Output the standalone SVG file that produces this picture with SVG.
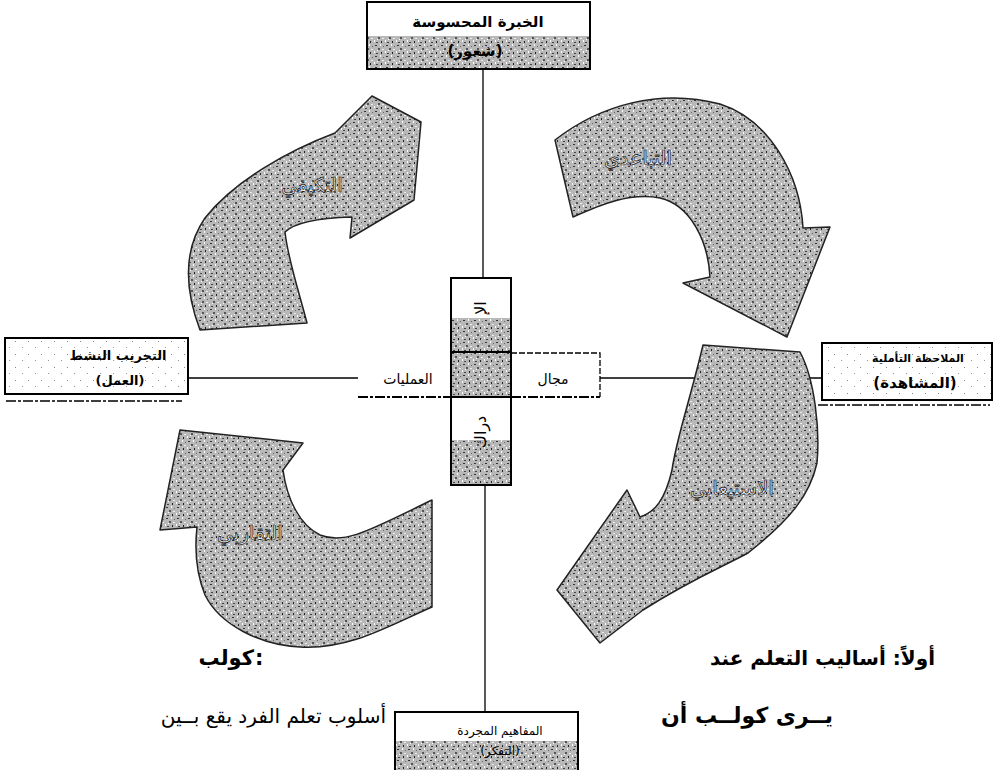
<svg xmlns="http://www.w3.org/2000/svg" width="999" height="770" viewBox="0 0 999 770">
<defs>
<pattern id="tex" width="11" height="11" patternUnits="userSpaceOnUse">
<rect width="11" height="11" fill="#b8b8b8"/>
<rect x="1" y="1" width="2" height="1" fill="#333"/>
<rect x="6" y="0" width="1" height="2" fill="#fff"/>
<rect x="4" y="4" width="2" height="2" fill="#555"/>
<rect x="8" y="5" width="2" height="1" fill="#eee"/>
<rect x="0" y="7" width="1" height="2" fill="#fff"/>
<rect x="2" y="9" width="2" height="1" fill="#444"/>
<rect x="7" y="8" width="1" height="2" fill="#222"/>
<rect x="9" y="2" width="1" height="1" fill="#666"/>
<rect x="3" y="6" width="1" height="1" fill="#fff"/>
</pattern>
<pattern id="lt" width="13" height="13" patternUnits="userSpaceOnUse">
<rect width="13" height="13" fill="#fff"/>
<rect x="2" y="3" width="1" height="1" fill="#888"/>
<rect x="9" y="9" width="1" height="1" fill="#999"/>
</pattern>
</defs>
<style>
.ar{font-family:'DejaVu Sans',sans-serif;fill:#000}
.b{font-weight:bold}
.box{fill:#fff;stroke:#000;stroke-width:2}
.ln{stroke:#000;stroke-width:1.3;fill:none}
.arrow{fill:url(#tex);stroke:#222;stroke-width:1.5;stroke-linejoin:round}
.lab{font-family:'DejaVu Sans',sans-serif;font-size:20px;fill:#f2f2f2;stroke:#111;stroke-width:0.7;opacity:0.99}
.dash{stroke:#000;stroke-width:2;stroke-dasharray:10 2 3 2;fill:none}
</style>

<g id="connectors">
<line class="ln" x1="483" y1="70" x2="483" y2="278"/>
<line class="ln" x1="485" y1="485" x2="485" y2="712"/>
<line class="ln" x1="188" y1="378" x2="358" y2="378"/>
<line class="ln" x1="600" y1="378" x2="822" y2="378"/>
</g>

<g id="arrow-divergent">
<path class="arrow" d="M555,140 C600,105 660,88 720,104 C770,120 800,175 803,228 L830,227 L787,337 L683,283 L710,277 C708,240 690,205 660,198 C630,192 600,205 573,217 Z"/>
<text class="lab" x="638" y="165" text-anchor="middle">التباعدي</text>
</g>

<g id="arrow-accommodating">
<path class="arrow" d="M200,330 C185,290 183,250 205,218 C235,180 290,150 335,133 L372,96 L421,122 L414,200 L350,238 L352,217 C320,218 295,222 285,232 C288,260 300,295 307,323 Z"/>
<text class="lab" x="312" y="192" text-anchor="middle">التكيفي</text>
</g>

<g id="arrow-converging">
<path class="arrow" d="M180,430 L303,443 L283,470 C287,500 300,525 320,535 C345,545 370,530 432,500 L432,607 C390,625 350,650 300,647 C260,645 220,625 205,595 C195,570 195,545 197,527 L160,530 Z"/>
<text class="lab" x="250" y="540" text-anchor="middle">التقاربي</text>
</g>

<g id="arrow-assimilating">
<path class="arrow" d="M703,345 L800,352 C815,380 820,430 817,463 C810,495 790,520 748,553 C720,568 690,580 643,610 L600,643 L557,590 L627,490 L640,517 C655,512 665,500 672,470 C676,440 690,400 703,345 Z"/>
<text class="lab" x="732" y="495" text-anchor="middle">الاستيعابي</text>
</g>

<g id="node-concrete">
<rect class="box" x="367" y="2" width="223" height="67"/>
<rect x="368" y="36" width="221" height="32" fill="url(#tex)"/>
<text class="ar b" x="478" y="27" font-size="15" text-anchor="middle">الخبرة المحسوسة</text>
<text class="ar b" x="475" y="56" font-size="15" text-anchor="middle">(شعور)</text>
</g>

<g id="node-active">
<rect class="box" x="5" y="338" width="183" height="56" style="fill:url(#lt)"/>
<line class="dash" x1="6" y1="401" x2="182" y2="401" style="stroke-width:1.5"/>
<text class="ar b" x="118" y="360" font-size="13" text-anchor="middle">التجريب النشط</text>
<text class="ar b" x="120" y="385" font-size="13" text-anchor="middle">(العمل)</text>
</g>

<g id="node-reflective">
<rect class="box" x="822" y="343" width="170" height="57" style="fill:url(#lt)"/>
<line class="dash" x1="818" y1="405" x2="990" y2="405" style="stroke-width:1.5"/>
<text class="ar b" x="918" y="362" font-size="11" text-anchor="middle">الملاحظة التأملية</text>
<text class="ar b" x="915" y="388" font-size="15" text-anchor="middle">(المشاهدة)</text>
</g>

<g id="node-abstract">
<rect class="box" x="395" y="712" width="183" height="62"/>
<rect x="396" y="741" width="181" height="29" fill="url(#tex)"/>
<text class="ar" x="500" y="735" font-size="12" text-anchor="middle">المفاهيم المجردة</text>
<text class="ar" x="500" y="755" font-size="12" text-anchor="middle">(التفكر)</text>
</g>

<g id="node-center">
<rect x="358" y="352" width="242" height="45" fill="#fff"/>
<line class="dash" x1="358" y1="397" x2="600" y2="397"/>
<polyline points="511,353 600,353 600,397" fill="none" stroke="#000" stroke-width="1.3" stroke-dasharray="6 2"/>
<text class="ar" x="553" y="384" font-size="14" text-anchor="middle">مجال</text>
<text class="ar" x="408" y="384" font-size="14" text-anchor="middle">العمليات</text>
<rect x="451" y="278" width="60" height="207" fill="#fff" stroke="#000" stroke-width="2"/>
<rect x="452" y="318" width="58" height="34" fill="url(#tex)"/>
<rect x="452" y="352" width="58" height="45" fill="url(#tex)"/>
<rect x="452" y="440" width="58" height="44" fill="url(#tex)"/>
<line x1="451" y1="352" x2="511" y2="352" stroke="#000" stroke-width="2"/>
<line x1="451" y1="397" x2="511" y2="397" stroke="#000" stroke-width="2"/>
<text class="ar" font-size="16" text-anchor="middle" transform="translate(486,308) rotate(-90)">الإ</text>
<text class="ar" font-size="16" text-anchor="middle" transform="translate(486,432) rotate(-90)">دراك</text>
</g>

<g id="caption">
<text class="ar b" x="935" y="665" font-size="20" text-anchor="end">أولاً: أساليب التعلم عند</text>
<text class="ar b" x="254" y="665" font-size="21" text-anchor="end">كولب</text>
<text class="ar b" x="255" y="665" font-size="21">:</text>
<text class="ar b" x="833" y="723" font-size="22" text-anchor="end">يــرى كولــب أن</text>
<text class="ar" x="386" y="723" font-size="20" text-anchor="end">أسلوب تعلم الفرد يقع بــين</text>
</g>
</svg>
